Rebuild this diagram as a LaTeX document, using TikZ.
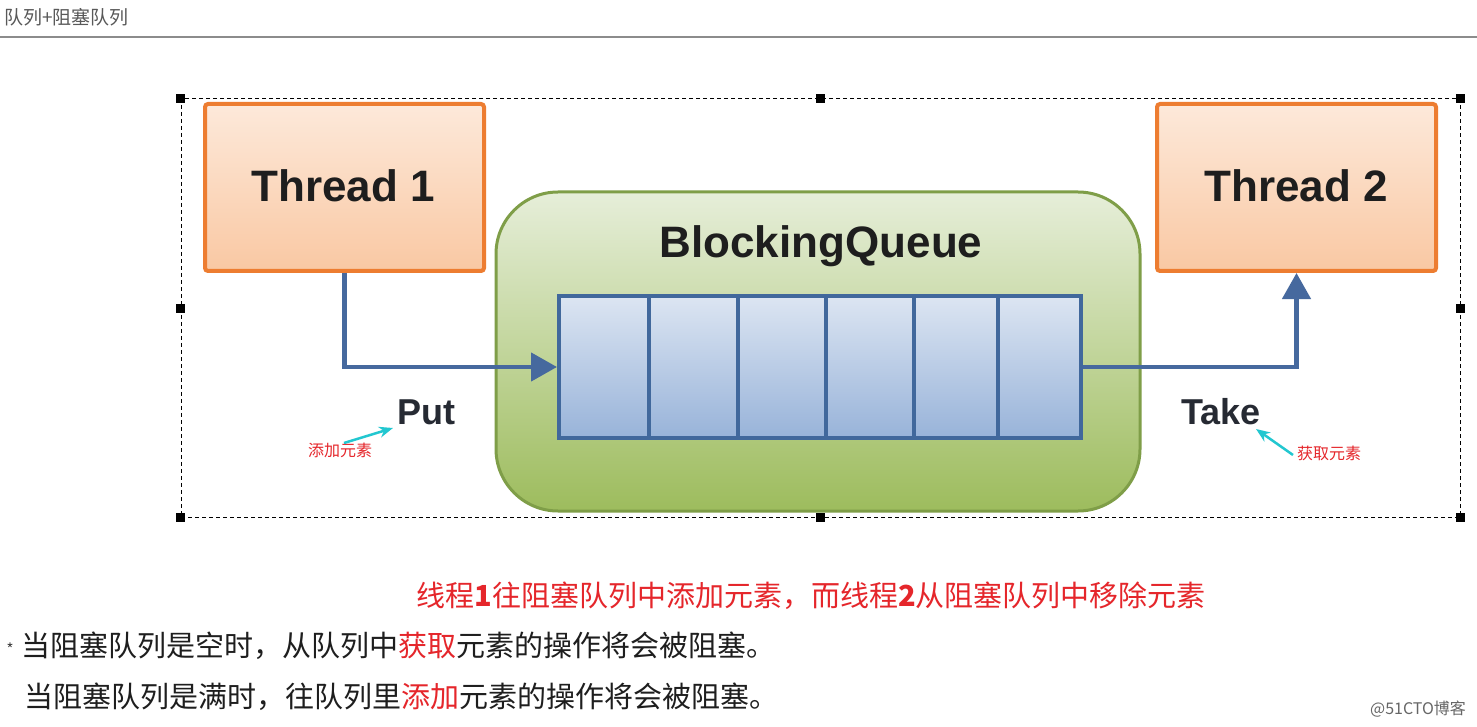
\documentclass[tikz,border=0pt]{standalone}
\usepackage{fontspec}
\setmainfont{Liberation Sans}
\newfontfamily\cjk{Noto Sans CJK SC}
\usetikzlibrary{arrows.meta}
\definecolor{orborder}{HTML}{ED7D31}
\definecolor{ortop}{HTML}{FDE9DA}
\definecolor{orbot}{HTML}{F9C8A3}
\definecolor{grborder}{HTML}{7F9E48}
\definecolor{grtop}{HTML}{E6EED9}
\definecolor{grbot}{HTML}{9DBC5D}
\definecolor{blborder}{HTML}{41689C}
\definecolor{bltop}{HTML}{DCE5F2}
\definecolor{blbot}{HTML}{98B3D9}
\definecolor{arrowblue}{HTML}{46699E}
\definecolor{redtxt}{HTML}{E5262B}
\definecolor{cyanarr}{HTML}{22C7D0}
\definecolor{darktxt}{HTML}{1E1E1E}
\definecolor{optext}{HTML}{262A33}
\tikzset{
  thread/.style={draw=orborder, line width=4pt, rounded corners=3pt, top color=ortop, bottom color=orbot,
    minimum width=279pt, minimum height=167pt, inner sep=0pt},
  qbox/.style={draw=grborder, line width=3pt, rounded corners=62pt, top color=grtop, bottom color=grbot,
    minimum width=644pt, minimum height=319pt, inner sep=0pt},
  cellbox/.style={draw=blborder, line width=4pt, top color=bltop, bottom color=blbot,
    minimum height=142pt, inner sep=0pt},
  bigtxt/.style={font=\fontsize{44}{50}\selectfont\bfseries, text=darktxt, inner sep=0pt},
  optxt/.style={font=\fontsize{36}{40}\selectfont\bfseries, text=optext, inner sep=0pt},
  flow/.style={draw=arrowblue, line width=4.5pt, -{Triangle[length=26pt,width=28pt]}},
  note/.style={font=\cjk\fontsize{16}{18}\selectfont, text=redtxt, inner sep=0pt},
  notearrow/.style={draw=cyanarr, line width=2.5pt, -{Stealth[length=14pt,width=11pt]}},
  handle/.style={fill=black, minimum size=9pt, inner sep=0pt},
  body/.style={font=\cjk\fontsize{29}{34}\selectfont, text=darktxt, inner sep=0pt},
}
\begin{document}
\begin{tikzpicture}[x=1pt,y=-1pt]
\useasboundingbox (0,0) rectangle (1477,727);
\fill[white] (0,0) rectangle (1477,727);
% header
\node[anchor=west, font=\cjk\fontsize{19}{22}\selectfont, text=black!65, inner sep=0pt] (hdr) at (4,17) {队列+阻塞队列};
\draw[black!45, line width=1.5pt] (0,37) -- (1477,37);
% selection frame
\node[draw=black, line width=1pt, dash pattern=on 4pt off 3pt, minimum width=1279pt, minimum height=418pt, inner sep=0pt] (frame) at (820.5,308) {};
\foreach \a in {north west,north,north east,west,east,south west,south,south east}
  \node[handle] at (frame.\a) {};
% threads
\node[thread] (t1) at (344.5,187.5) {};
\node[bigtxt] (t1l) at (343,186) {Thread 1};
\node[thread] (t2) at (1296.5,187.5) {};
\node[bigtxt] (t2l) at (1296,186) {Thread 2};
% blocking queue
\node[qbox] (bq) at (818,351.5) {};
\node[bigtxt] (bql) at (821,246) {BlockingQueue};
\node[cellbox, minimum width=90pt] (c1) at (604,367) {};
\node[cellbox, minimum width=89pt] (c2) at (693.5,367) {};
\node[cellbox, minimum width=88pt] (c3) at (782,367) {};
\node[cellbox, minimum width=88pt] (c4) at (870,367) {};
\node[cellbox, minimum width=84pt] (c5) at (956,367) {};
\node[cellbox, minimum width=83pt] (c6) at (1039.5,367) {};
% flows
\draw[flow] (t1.south) |- (c1.west);
\draw[flow] (c6.east) -| (t2.south);
\node[optxt] (put) at (426,412) {Put};
\node[optxt] (take) at (1221,412) {Take};
% notes
\node[note] (n1) at (340,450) {添加元素};
\coordinate (n1s) at (344,443);
\coordinate (n1e) at (393,428);
\draw[notearrow] (n1s) -- (n1e);
\node[note] (n2) at (1329,453) {获取元素};
\coordinate (n2s) at (1293,455);
\coordinate (n2e) at (1256,429);
\draw[notearrow] (n2s) -- (n2e);
% text lines
\node[body, text=redtxt] (l1) at (811,596) {线程\textbf{1}往阻塞队列中添加元素，而线程\textbf{2}从阻塞队列中移除元素};
\node[font=\fontsize{14}{14}\selectfont, text=darktxt, inner sep=0pt] (star) at (10,648) {*};
\node[body, anchor=west] (l2) at (21,646) {当阻塞队列是空时，从队列中\textcolor{redtxt}{获取}元素的操作将会被阻塞。};
\node[body, anchor=west] (l3) at (24,697) {当阻塞队列是满时，往队列里\textcolor{redtxt}{添加}元素的操作将会被阻塞。};
\node[font=\cjk\fontsize{16}{18}\selectfont, text=black!60, inner sep=0pt] (wm) at (1418,709) {@51CTO博客};
\end{tikzpicture}
\end{document}
